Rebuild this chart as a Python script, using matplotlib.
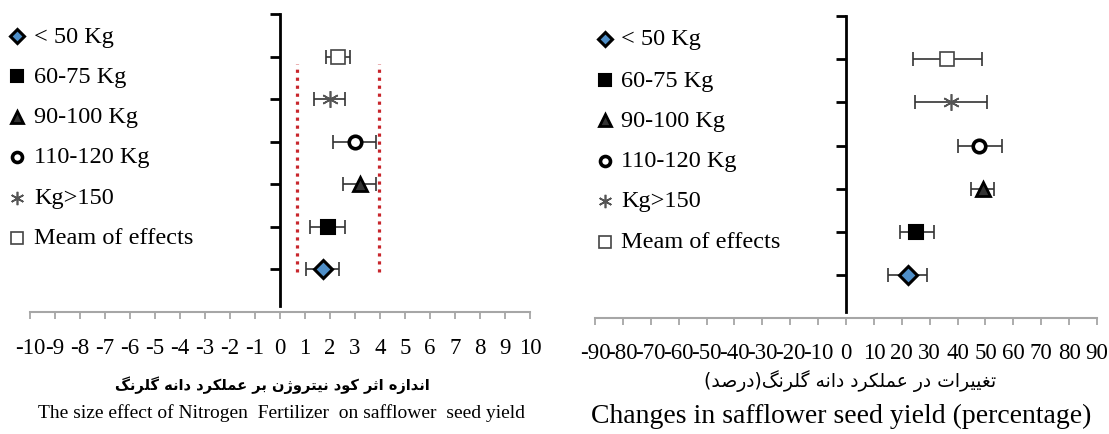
import matplotlib
matplotlib.use("Agg")
import matplotlib.pyplot as plt
from matplotlib.lines import Line2D

plt.rcParams['font.family'] = ['Liberation Serif', 'DejaVu Sans']
plt.rcParams['axes.unicode_minus'] = False

# data
groups = ['< 50 Kg', '60-75 Kg', '90-100 Kg', '110-120 Kg', 'Kg>150', 'Meam of effects']
rows = [1, 2, 3, 4, 5, 6]

left_mean = [1.7, 1.9, 3.2, 3.0, 2.0, 2.3]
left_lo = [1.05, 1.2, 2.5, 2.1, 1.35, 1.85]
left_hi = [2.35, 2.6, 3.85, 3.85, 2.6, 2.8]
left_limits = [0.67, 3.97]
left_ticks = [-10, -9, -8, -7, -6, -5, -4, -3, -2, -1, 0, 1, 2, 3, 4, 5, 6, 7, 8, 9, 10]

right_mean = [22.2, 25.1, 49.0, 47.7, 37.7, 36.2]
right_lo = [15.1, 19.2, 44.8, 40.2, 24.9, 24.1]
right_hi = [29.2, 31.4, 53.0, 56.1, 50.5, 48.7]
right_ticks = [-90, -80, -70, -60, -50, -40, -30, -20, -10, 0, 10, 20, 30, 40, 50, 60, 70, 80, 90]

left_fa = 'اندازه اثر کود نیتروژن بر عملکرد دانه گلرنگ'
left_en = 'The size effect of Nitrogen  Fertilizer  on safflower  seed yield'
right_fa = 'تغییرات در عملکرد دانه گلرنگ(درصد)'
right_en = 'Changes in safflower seed yield (percentage)'

# marker look for each group
styles = [
    dict(marker='D', ms=9.5, mfc='#4f8fc8', mec='black', mew=2.2),
    dict(marker='s', ms=10, mfc='black', mec='black', mew=1.5),
    dict(marker='^', ms=10, mfc='#333333', mec='black', mew=2),
    dict(marker='o', ms=9, mfc='white', mec='black', mew=2.6),
    dict(marker=(6, 2, 0), ms=12, mfc='none', mec='#555555', mew=1.2),
    dict(marker='s', ms=10, mfc='white', mec='#444444', mew=1.2),
]

# simple Persian shaping (matplotlib has no complex text layout)
FORMS = {
    'ا': ('\uFE8D', '\uFE8E', None, None),
    'ب': ('\uFE8F', '\uFE90', '\uFE91', '\uFE92'),
    'ت': ('\uFE95', '\uFE96', '\uFE97', '\uFE98'),
    'ث': ('\uFE99', '\uFE9A', '\uFE9B', '\uFE9C'),
    'د': ('\uFEA9', '\uFEAA', None, None),
    'ر': ('\uFEAD', '\uFEAE', None, None),
    'ز': ('\uFEAF', '\uFEB0', None, None),
    'ژ': ('\uFB8A', '\uFB8B', None, None),
    'ص': ('\uFEB9', '\uFEBA', '\uFEBB', '\uFEBC'),
    'ع': ('\uFEC9', '\uFECA', '\uFECB', '\uFECC'),
    'غ': ('\uFECD', '\uFECE', '\uFECF', '\uFED0'),
    'ل': ('\uFEDD', '\uFEDE', '\uFEDF', '\uFEE0'),
    'م': ('\uFEE1', '\uFEE2', '\uFEE3', '\uFEE4'),
    'ن': ('\uFEE5', '\uFEE6', '\uFEE7', '\uFEE8'),
    'ه': ('\uFEE9', '\uFEEA', '\uFEEB', '\uFEEC'),
    'و': ('\uFEED', '\uFEEE', None, None),
    'ک': ('\uFB8E', '\uFB8F', '\uFB90', '\uFB91'),
    'گ': ('\uFB92', '\uFB93', '\uFB94', '\uFB95'),
    'ی': ('\uFBFC', '\uFBFD', '\uFBFE', '\uFBFF'),
}


def shape_fa(text):
    out = []
    for i, ch in enumerate(text):
        if ch not in FORMS:
            out.append(ch)
            continue
        f = FORMS[ch]
        prev = text[i - 1] if i > 0 else None
        nxt = text[i + 1] if i < len(text) - 1 else None
        jp = prev in FORMS and FORMS[prev][2] is not None
        jn = f[2] is not None and nxt in FORMS
        if jp and jn:
            out.append(f[3])
        elif jp:
            out.append(f[1])
        elif jn:
            out.append(f[2])
        else:
            out.append(f[0])
    vis = ''.join(reversed(out))
    return vis.replace('(', '\0').replace(')', '(').replace('\0', ')')


fig = plt.figure(figsize=(11.09, 4.35), dpi=100)
W, H = 1109, 435

ax1 = fig.add_axes([30 / W, 1 - 313 / H, 500 / W, 300 / H])
ax2 = fig.add_axes([595 / W, 1 - 319 / H, 502 / W, 304 / H])


def setup(ax, ticks, pad):
    ax.set_xlim(ticks[0], ticks[-1])
    ax.set_ylim(0, 7.05)
    ax.set_xticks(ticks)
    ax.set_xticklabels([str(t) for t in ticks], fontsize=16.5)
    ax.tick_params(axis='x', direction='out', length=5, width=1.3,
                   color='#a6a6a6', pad=pad)
    for s in ['top', 'right']:
        ax.spines[s].set_visible(False)
    ax.spines['bottom'].set_color('#a6a6a6')
    ax.spines['bottom'].set_linewidth(1.5)
    ax.spines['left'].set_position(('data', 0))
    ax.spines['left'].set_bounds(0.15, 7)
    ax.spines['left'].set_linewidth(2)
    ax.set_yticks([1, 2, 3, 4, 5, 6, 7])
    ax.set_yticklabels([])
    ax.tick_params(axis='y', direction='out', length=7, width=2, color='black')


def draw(ax, mean, lo, hi):
    for i in range(len(groups)):
        ax.errorbar(mean[i], rows[i],
                    xerr=[[mean[i] - lo[i]], [hi[i] - mean[i]]],
                    fmt='none', ecolor='#333333', elinewidth=1.2,
                    capsize=5, capthick=1.2, zorder=2)
        ax.plot(mean[i], rows[i], ls='none', zorder=3, **styles[i])


setup(ax1, left_ticks, 13)
setup(ax2, right_ticks, 12)
draw(ax1, left_mean, left_lo, left_hi)
draw(ax2, right_mean, right_lo, right_hi)

for v in left_limits:
    ax1.vlines(v, 0.95, 5.82, colors='#c8262c', linestyles=(0, (1, 1.5)),
               linewidth=2.3, zorder=1)


# legends
def legend(x_mark, x_text, y_rows):
    for i, lab in enumerate(groups):
        st = dict(styles[i])
        st['ms'] = st['ms'] * 0.8
        fig.add_artist(Line2D([x_mark / W], [1 - y_rows[i] / H],
                              transform=fig.transFigure, ls='none', **st))
        fig.text(x_text / W, 1 - y_rows[i] / H, lab, fontsize=17.5,
                 va='center', ha='left')


legend(17, 34, [37, 77, 118, 158, 199, 239])
legend(605, 621, [40, 81, 121, 162, 202, 243])

fig.text(272 / W, 1 - 385 / H, shape_fa(left_fa), family=['DejaVu Sans'],
         fontsize=10.5, fontweight='bold', ha='center', va='center')
fig.text(281 / W, 1 - 413 / H, left_en, fontsize=14, ha='center', va='center')
fig.text(850 / W, 1 - 381 / H, shape_fa(right_fa), family=['DejaVu Sans'],
         fontsize=13.5, ha='center', va='center')
fig.text(841 / W, 1 - 416 / H, right_en, fontsize=20, ha='center', va='center')

fig.savefig('out.png', dpi=100)
